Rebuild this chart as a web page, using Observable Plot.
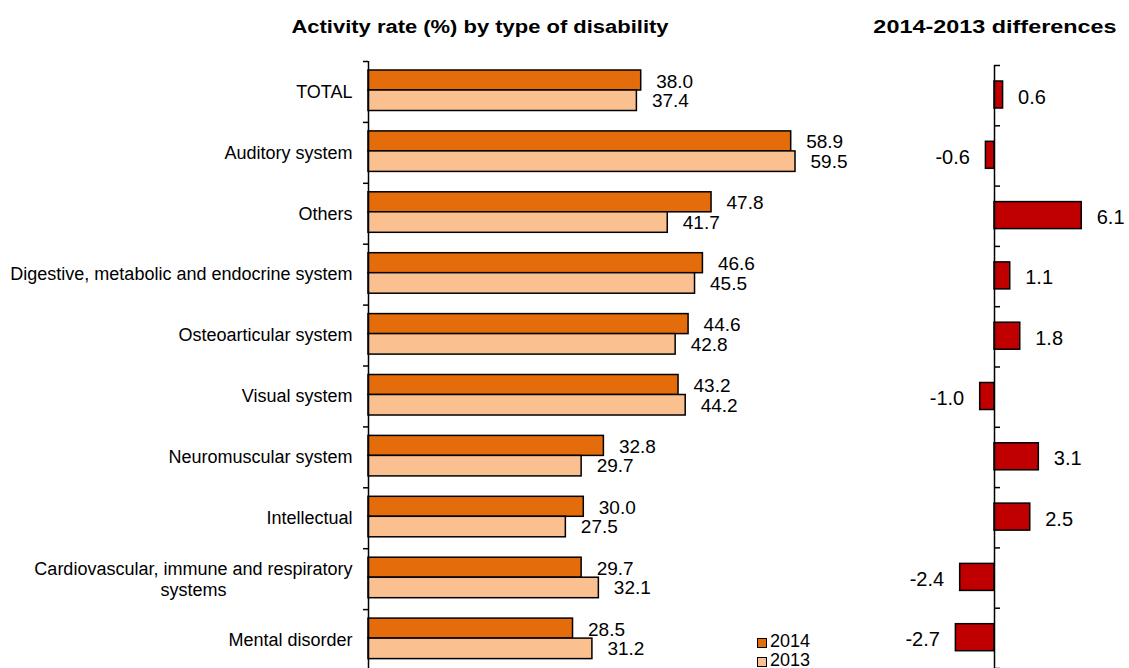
<!DOCTYPE html>
<html>
<head>
<meta charset="utf-8">
<script src="https://cdn.jsdelivr.net/npm/d3@7"></script>
<script src="https://cdn.jsdelivr.net/npm/@observablehq/plot@0.6"></script>
<style>
  html, body { margin: 0; padding: 0; background: #fff; overflow: hidden; }
  #wrap { position: relative; width: 1129px; height: 668px; font-family: "Liberation Sans", Arial, sans-serif; color: #000; }
  .title { position: absolute; font-weight: bold; font-size: 18px; line-height: 24px; text-align: center; white-space: nowrap; }
  .leg-box { position: absolute; width: 10px; height: 10px; box-sizing: border-box; border: 1.5px solid #000; }
  .leg-txt { position: absolute; font-size: 18px; line-height: 19px; white-space: nowrap; }
  .plot { position: absolute; top: 0; line-height: 0; }
  .plot svg { display: block; }
</style>
</head>
<body>
<div id="wrap">
  <div class="title" style="left:180px; width:600px; top:15px; transform:scaleX(1.22);">Activity rate (%) by type of disability</div>
  <div class="title" style="left:895px; width:200px; top:15px; transform:scaleX(1.3);">2014-2013 differences</div>
  <div id="left" class="plot" style="left:0px;"></div>
  <div id="right" class="plot" style="left:880px;"></div>
  <div class="leg-box" style="left:757px; top:638px; background:#E46C0A;"></div>
  <div class="leg-txt" style="left:770px; top:632px;">2014</div>
  <div class="leg-box" style="left:757px; top:657px; background:#FAC090;"></div>
  <div class="leg-txt" style="left:770px; top:651px;">2013</div>
</div>
<script>
// ---- data ----
const categories = [
  "TOTAL",
  "Auditory system",
  "Others",
  "Digestive, metabolic and endocrine system",
  "Osteoarticular system",
  "Visual system",
  "Neuromuscular system",
  "Intellectual",
  "Cardiovascular, immune and respiratory systems",
  "Mental disorder"
];
const categoryLabels = [
  "TOTAL",
  "Auditory system",
  "Others",
  "Digestive, metabolic and endocrine system",
  "Osteoarticular system",
  "Visual system",
  "Neuromuscular system",
  "Intellectual",
  "Cardiovascular, immune and respiratory\nsystems",
  "Mental disorder"
];
const rate2014 = [38.0, 58.9, 47.8, 46.6, 44.6, 43.2, 32.8, 30.0, 29.7, 28.5];
const rate2013 = [37.4, 59.5, 41.7, 45.5, 42.8, 44.2, 29.7, 27.5, 32.1, 31.2];
const diff1413 = [0.6, -0.6, 6.1, 1.1, 1.8, -1.0, 3.1, 2.5, -2.4, -2.7];

const rows = categories.map((c, i) => ({
  category: c, label: categoryLabels[i],
  v2014: rate2014[i], v2013: rate2013[i], diff: diff1413[i]
}));

const FONT = '"Liberation Sans", Arial, sans-serif';
const C2014 = "#E46C0A", C2013 = "#FAC090", CDIFF = "#C00000";

// ---- left panel ----
const LW = 875, LH = 672, LML = 368, LMR = 80, LMT = 61, LMB = 2;
const lbw = (LH - LMT - LMB) / categories.length;
const lPlotW = LW - LML - LMR;

// measure first line of the wrapped label to centre the 2-line label
const ctx = document.createElement("canvas").getContext("2d");
ctx.font = "18px " + FONT;
const multi = rows.filter(d => d.label.includes("\n"));
const single = rows.filter(d => !d.label.includes("\n"));
const firstLineW = multi.length ? ctx.measureText(multi[0].label.split("\n")[0]).width : 0;

const left = Plot.plot({
  width: LW, height: LH,
  marginLeft: LML, marginRight: LMR, marginTop: LMT, marginBottom: LMB,
  style: { fontFamily: FONT, fontSize: "18px", overflow: "visible", background: "transparent", color: "#000" },
  x: { domain: [0, 59.5], axis: null },
  y: { domain: categories, padding: 0, round: false, axis: null },
  marks: [
    Plot.barX(rows, { x: "v2014", y: "category", fill: C2014, stroke: "#000", strokeWidth: 1.5,
      insetTop: 9, insetBottom: lbw - 29 }),
    Plot.barX(rows, { x: "v2013", y: "category", fill: C2013, stroke: "#000", strokeWidth: 1.5,
      insetTop: 29, insetBottom: lbw - 49.5 }),
    Plot.ruleX([0], { stroke: "#000", strokeWidth: 1.5 }),
    Plot.ruleY(categories, { y: d => d, dy: -lbw / 2, stroke: "#000", strokeWidth: 1.5,
      insetLeft: -5, insetRight: lPlotW }),
    Plot.text(rows, { x: "v2014", y: "category", text: d => d.v2014.toFixed(1), textAnchor: "start",
      dx: 15, dy: -10.5, fontSize: 19, fill: "#000" }),
    Plot.text(rows, { x: "v2013", y: "category", text: d => d.v2013.toFixed(1), textAnchor: "start",
      dx: 15, dy: 9, fontSize: 19, fill: "#000" }),
    Plot.text(single, { y: "category", text: "label", frameAnchor: "left", textAnchor: "end",
      dx: -16, fontSize: 18, fill: "#000" }),
    Plot.text(multi, { y: "category", text: "label", frameAnchor: "left", textAnchor: "middle",
      dx: -16 - firstLineW / 2, fontSize: 18, lineHeight: 1.17, fill: "#000" })
  ]
});
document.getElementById("left").appendChild(left);

// ---- right panel ----
const RW = 249, RH = 672, RMT = 65, RMB = 4, AX = 114, TICK = 6;
const rbw = (RH - RMT - RMB) / categories.length;
const pxPerUnit = 14.3;

const right = Plot.plot({
  width: RW, height: RH,
  marginLeft: AX, marginRight: RW - AX - TICK, marginTop: RMT, marginBottom: RMB,
  style: { fontFamily: FONT, fontSize: "20px", overflow: "visible", background: "transparent", color: "#000" },
  x: { domain: [0, 1], range: [AX, AX + pxPerUnit], axis: null },
  y: { domain: categories, padding: 0, round: false, axis: null },
  marks: [
    Plot.barX(rows, { x: "diff", y: "category", fill: CDIFF, stroke: "#000", strokeWidth: 1.5,
      insetTop: 16, insetBottom: rbw - 43 }),
    Plot.ruleX([0], { stroke: "#000", strokeWidth: 1.5 }),
    Plot.ruleY(categories, { y: d => d, dy: -rbw / 2, stroke: "#000", strokeWidth: 1.5 }),
    Plot.ruleY(categories.slice(-1), { y: d => d, dy: rbw / 2, stroke: "#000", strokeWidth: 1.5 }),
    Plot.text(rows.filter(d => d.diff >= 0), { x: "diff", y: "category", text: d => d.diff.toFixed(1),
      textAnchor: "start", dx: 15, dy: 1.5, fontSize: 20, fill: "#000" }),
    Plot.text(rows.filter(d => d.diff < 0), { x: "diff", y: "category", text: d => d.diff.toFixed(1),
      textAnchor: "end", dx: -16, dy: 1.5, fontSize: 20, fill: "#000" })
  ]
});
document.getElementById("right").appendChild(right);
</script>
</body>
</html>
